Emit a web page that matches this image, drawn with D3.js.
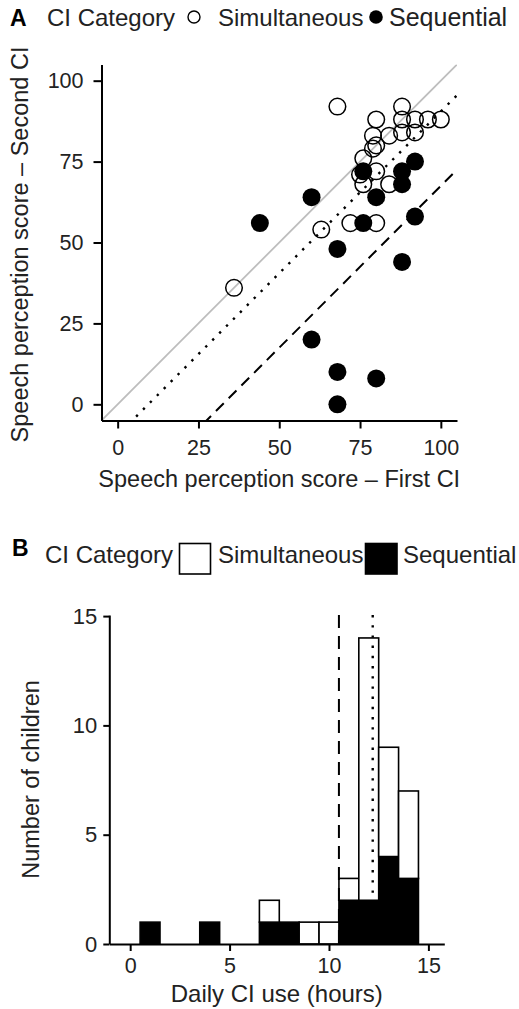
<!DOCTYPE html>
<html>
<head>
<meta charset="utf-8">
<script src="https://cdn.jsdelivr.net/npm/d3@7"></script>
<style>
  body { margin: 0; background: #fff; }
  svg { display: block; font-family: "Liberation Sans", Arial, sans-serif; }
</style>
</head>
<body>
<div id="chart"></div>
<script>
// Panel A: speech perception scores, first CI vs second CI
var simFirst  = [68, 88, 80, 88, 92, 96, 100, 79, 84, 88, 92, 80, 79, 76, 75, 80, 76, 84, 72, 80, 63, 36];
var simSecond = [92, 92, 88, 88, 88, 88, 88, 83, 83, 84, 84, 80, 79, 76, 71, 72, 68, 68, 56, 56, 54, 36];
var seqFirst  = [92, 76, 88, 88, 80, 60, 44, 76, 92, 68, 88, 60, 68, 80, 68];
var seqSecond = [75, 72, 72, 68, 64, 64, 56, 56, 58, 48, 44, 20, 10, 8, 0];
var scoreTicks = [0, 25, 50, 75, 100];
// reference lines in panel A: second = first - offset
var dottedOffset = 9.5;
var dashedOffset = 32.5;

// Panel B: histogram of daily CI use (hours), bins of width 1
var hourBins   = [1, 4, 7, 8, 9, 10, 11, 12, 13, 14];
var seqCounts  = [1, 1, 1, 1, 0, 0, 2, 2, 4, 3];
var simCounts  = [0, 0, 1, 0, 1, 1, 1, 12, 5, 4];
var hourTicks  = [0, 5, 10, 15];
var countTicks = [0, 5, 10, 15];
var dashedHour = 10.5;
var dottedHour = 12.2;

var W = 519, H = 1009;
var svg = d3.select("#chart").append("svg")
  .attr("width", W).attr("height", H);

// ---------- Panel A ----------
var xA = d3.scaleLinear().domain([-5, 105]).range([101.5, 457]);
var yA = d3.scaleLinear().domain([-5, 105]).range([420.5, 64.5]);

svg.append("defs").append("clipPath").attr("id", "clipA")
  .append("rect")
  .attr("x", xA(-5)).attr("y", yA(105))
  .attr("width", xA(105) - xA(-5)).attr("height", yA(-5) - yA(105));

var lines = svg.append("g").attr("clip-path", "url(#clipA)");
lines.append("line")
  .attr("x1", xA(-5)).attr("y1", yA(-5)).attr("x2", xA(105)).attr("y2", yA(105))
  .attr("stroke", "#bdbdbd").attr("stroke-width", 1.8);
lines.append("line")
  .attr("x1", xA(-5)).attr("y1", yA(-5 - dottedOffset))
  .attr("x2", xA(105)).attr("y2", yA(105 - dottedOffset))
  .attr("stroke", "#000").attr("stroke-width", 2.4)
  .attr("stroke-dasharray", "2.4,7.4");
lines.append("line")
  .attr("x1", xA(-5)).attr("y1", yA(-5 - dashedOffset))
  .attr("x2", xA(105)).attr("y2", yA(105 - dashedOffset))
  .attr("stroke", "#000").attr("stroke-width", 2)
  .attr("stroke-dasharray", "11,7");

svg.append("g").selectAll("circle")
  .data(simFirst)
  .enter()
  .append("circle")
  .attr("cx", function(d) { return xA(d); })
  .attr("cy", function(d, i) { return yA(simSecond[i]); })
  .attr("r", 8.3)
  .attr("fill", "none")
  .attr("stroke", "#000")
  .attr("stroke-width", 1.5);

svg.append("g").selectAll("circle")
  .data(seqFirst)
  .enter()
  .append("circle")
  .attr("cx", function(d) { return xA(d); })
  .attr("cy", function(d, i) { return yA(seqSecond[i]); })
  .attr("r", 9)
  .attr("fill", "#000");

var axA_x = svg.append("g")
  .attr("transform", "translate(0," + yA(-5) + ")")
  .call(d3.axisBottom(xA).tickValues(scoreTicks).tickSize(8).tickSizeOuter(0).tickPadding(11));
var axA_y = svg.append("g")
  .attr("transform", "translate(" + xA(-5) + ",0)")
  .call(d3.axisLeft(yA).tickValues(scoreTicks).tickSize(8).tickSizeOuter(0).tickPadding(10));

// ---------- Panel B ----------
var xB = d3.scaleLinear().domain([-1.05, 15.8]).range([109.3, 444.3]);
var yB = d3.scaleLinear().domain([0, 15.05]).range([944, 615]);

var bars = svg.append("g");
bars.selectAll("rect.seq")
  .data(hourBins)
  .enter()
  .append("rect")
  .attr("class", "seq")
  .attr("x", function(d) { return xB(d - 0.5); })
  .attr("width", function(d) { return xB(d + 0.5) - xB(d - 0.5); })
  .attr("y", function(d, i) { return yB(seqCounts[i]); })
  .attr("height", function(d, i) { return yB(0) - yB(seqCounts[i]); })
  .attr("fill", "#000")
  .attr("stroke", "#000")
  .attr("stroke-width", 1.6)
  .style("display", function(d, i) { return seqCounts[i] > 0 ? null : "none"; });

bars.selectAll("rect.sim")
  .data(hourBins)
  .enter()
  .append("rect")
  .attr("class", "sim")
  .attr("x", function(d) { return xB(d - 0.5); })
  .attr("width", function(d) { return xB(d + 0.5) - xB(d - 0.5); })
  .attr("y", function(d, i) { return yB(seqCounts[i] + simCounts[i]); })
  .attr("height", function(d, i) { return yB(seqCounts[i]) - yB(seqCounts[i] + simCounts[i]); })
  .attr("fill", "#fff")
  .attr("stroke", "#000")
  .attr("stroke-width", 1.6)
  .style("display", function(d, i) { return simCounts[i] > 0 ? null : "none"; });

svg.append("line")
  .attr("x1", xB(dashedHour)).attr("x2", xB(dashedHour))
  .attr("y1", yB(15.05)).attr("y2", yB(0))
  .attr("stroke", "#000").attr("stroke-width", 2)
  .attr("stroke-dasharray", "13,8");
svg.append("line")
  .attr("x1", xB(dottedHour)).attr("x2", xB(dottedHour))
  .attr("y1", yB(15.05)).attr("y2", yB(0))
  .attr("stroke", "#000").attr("stroke-width", 2.4)
  .attr("stroke-dasharray", "2.4,7.8");

var axB_x = svg.append("g")
  .attr("transform", "translate(0," + yB(0) + ")")
  .call(d3.axisBottom(xB).tickValues(hourTicks).tickSize(7).tickSizeOuter(0).tickPadding(7));
var axB_y = svg.append("g")
  .attr("transform", "translate(" + xB(-1.05) + ",0)")
  .call(d3.axisLeft(yB).tickValues(countTicks).tickSize(6).tickSizeOuter(0).tickPadding(6));

// axis styling
[axA_x, axA_y, axB_x, axB_y].forEach(function(g) {
  g.select(".domain").attr("stroke", "#000").attr("stroke-width", 2);
  g.selectAll(".tick line").attr("stroke", "#000").attr("stroke-width", 2);
  g.selectAll(".tick text")
    .attr("fill", "#222")
    .style("font-family", "Liberation Sans, Arial, sans-serif")
    .style("font-size", "21.5px");
});
axB_y.selectAll(".tick text").style("font-size", "22px");

// ---------- titles ----------
function label(x, y, txt, size, opts) {
  opts = opts || {};
  var t = svg.append("text")
    .attr("x", x).attr("y", y)
    .attr("fill", "#222")
    .style("font-size", size + "px")
    .text(txt);
  if (opts.anchor) t.attr("text-anchor", opts.anchor);
  if (opts.bold) t.style("font-weight", "bold").attr("fill", "#000");
  if (opts.rotate) t.attr("transform", "rotate(-90," + x + "," + y + ")");
  return t;
}

label((xA(-5) + xA(105)) / 2, 487, "Speech perception score \u2013 First CI", 23.5, { anchor: "middle" });
label(28, 244.5, "Speech perception score \u2013 Second CI", 23.5, { anchor: "middle", rotate: true });
label((xB(-1.05) + xB(15.8)) / 2, 1002, "Daily CI use (hours)", 24, { anchor: "middle" });
label(39, 779.5, "Number of children", 23.5, { anchor: "middle", rotate: true });

// legend A
label(10, 26, "A", 23, { bold: true });
label(47, 26, "CI Category", 24);
svg.append("circle").attr("cx", 194).attr("cy", 17).attr("r", 6)
  .attr("fill", "none").attr("stroke", "#000").attr("stroke-width", 1.4);
label(218, 26, "Simultaneous", 24);
svg.append("circle").attr("cx", 376).attr("cy", 17).attr("r", 6.8).attr("fill", "#000");
label(389, 26, "Sequential", 25);

// legend B
label(12, 556, "B", 23, { bold: true });
label(45, 563, "CI Category", 24);
svg.append("rect").attr("x", 179.5).attr("y", 543.5).attr("width", 31).attr("height", 30.5)
  .attr("fill", "#fff").attr("stroke", "#000").attr("stroke-width", 1.6);
label(218, 563, "Simultaneous", 24);
svg.append("rect").attr("x", 365.5).attr("y", 543.5).attr("width", 31.5).attr("height", 30.5)
  .attr("fill", "#000").attr("stroke", "#000").attr("stroke-width", 1.6);
label(403, 563, "Sequential", 24);
</script>
</body>
</html>
